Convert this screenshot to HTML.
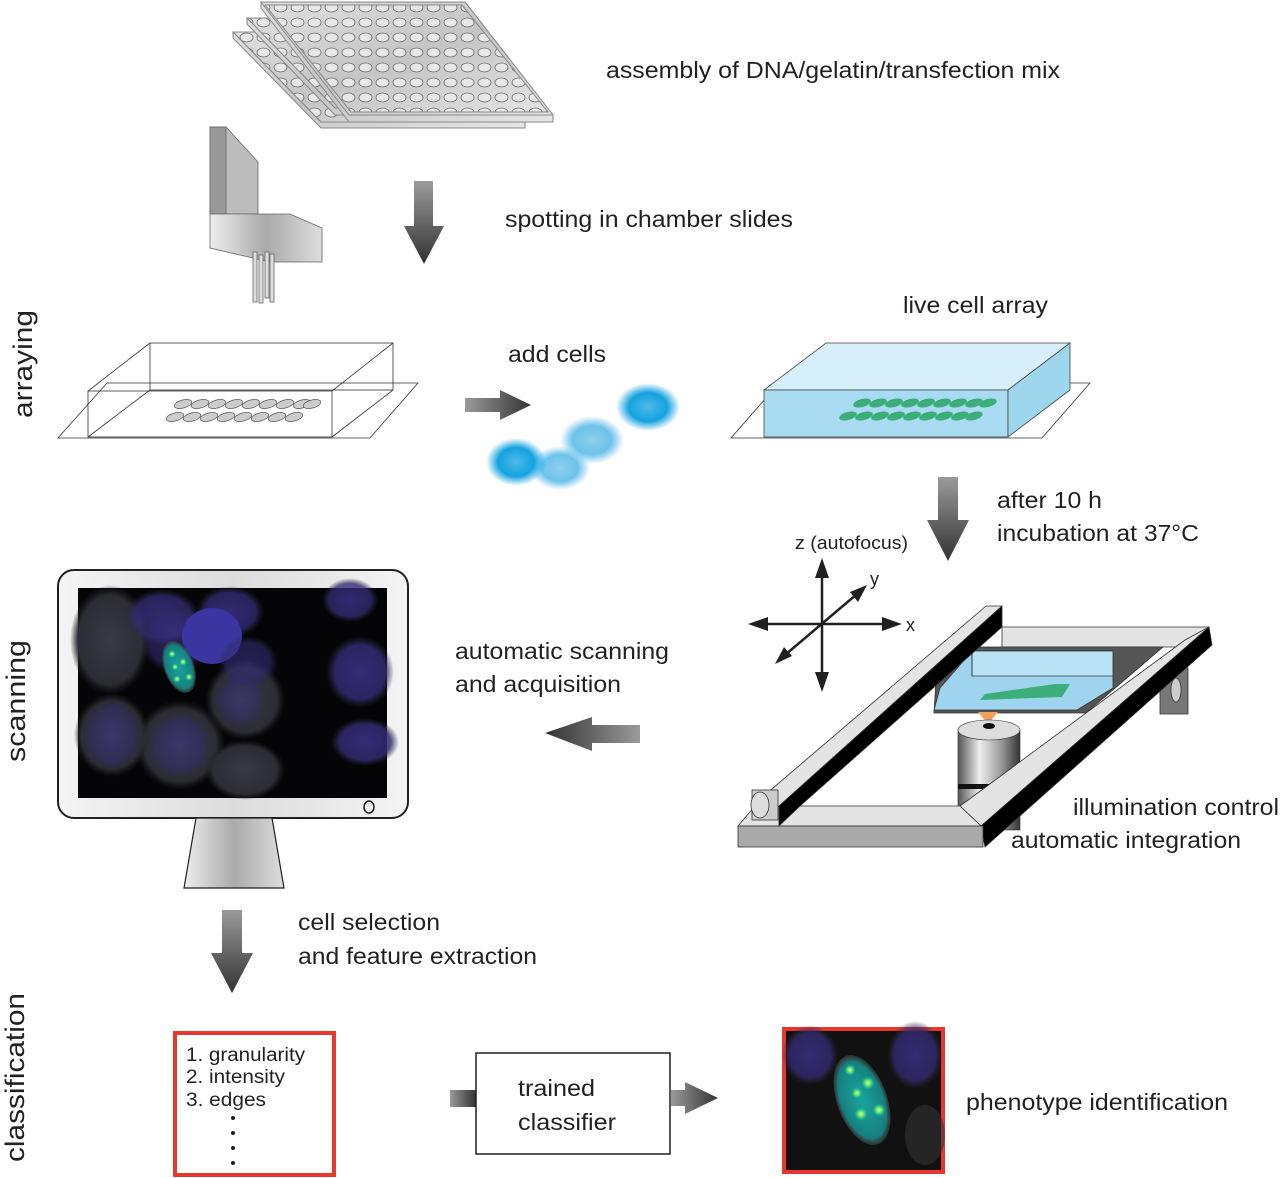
<!DOCTYPE html>
<html><head><meta charset="utf-8"><style>
html,body{margin:0;padding:0;background:#fff;}
svg{display:block;}
text{font-family:"Liberation Sans",Arial,sans-serif;fill:#231f20;}
</style></head><body>
<svg width="1280" height="1178" viewBox="0 0 1280 1178" xmlns="http://www.w3.org/2000/svg">
<defs>
<linearGradient id="ga" x1="0" y1="0" x2="0" y2="1"><stop offset="0" stop-color="#9a9a9a"/><stop offset="1" stop-color="#333"/></linearGradient>
<linearGradient id="gh" x1="0" y1="0" x2="1" y2="0"><stop offset="0" stop-color="#9a9a9a"/><stop offset="1" stop-color="#333"/></linearGradient>
<linearGradient id="ghl" x1="1" y1="0" x2="0" y2="0"><stop offset="0" stop-color="#9a9a9a"/><stop offset="1" stop-color="#333"/></linearGradient>
<linearGradient id="plate" x1="0" y1="0" x2="1" y2="1"><stop offset="0" stop-color="#e0e0e0"/><stop offset=".5" stop-color="#c4c4c4"/><stop offset="1" stop-color="#e6e6e6"/></linearGradient>
<linearGradient id="metal" x1="0" y1="0" x2="1" y2="0"><stop offset="0" stop-color="#eee"/><stop offset=".5" stop-color="#aaa"/><stop offset="1" stop-color="#ddd"/></linearGradient>
<linearGradient id="cyl" x1="0" y1="0" x2="1" y2="0"><stop offset="0" stop-color="#555"/><stop offset=".35" stop-color="#eee"/><stop offset=".7" stop-color="#999"/><stop offset="1" stop-color="#333"/></linearGradient>
<linearGradient id="bez" x1="0" y1="0" x2="1" y2="0"><stop offset="0" stop-color="#f4f4f4"/><stop offset=".5" stop-color="#dcdcdc"/><stop offset="1" stop-color="#f4f4f4"/></linearGradient>
<radialGradient id="cell" cx=".5" cy=".5" r=".5"><stop offset="0" stop-color="#4fb8e8"/><stop offset=".6" stop-color="#14a3e0"/><stop offset="1" stop-color="#14a3e0" stop-opacity="0"/></radialGradient>
<radialGradient id="cell2" cx=".5" cy=".5" r=".5"><stop offset="0" stop-color="#8fd0ee"/><stop offset=".6" stop-color="#6cc2ea"/><stop offset="1" stop-color="#6cc2ea" stop-opacity="0"/></radialGradient>
<radialGradient id="nuc" cx=".5" cy=".5" r=".5"><stop offset="0" stop-color="#3d338a"/><stop offset=".75" stop-color="#322a70"/><stop offset="1" stop-color="#2a2a3a" stop-opacity="0"/></radialGradient>
<radialGradient id="haze" cx=".5" cy=".5" r=".5"><stop offset="0" stop-color="#3a3a44"/><stop offset=".8" stop-color="#2c2c34"/><stop offset="1" stop-color="#222" stop-opacity="0"/></radialGradient>
<radialGradient id="gcell" cx=".5" cy=".5" r=".5"><stop offset="0" stop-color="#1aa3a0"/><stop offset=".85" stop-color="#15807e"/><stop offset="1" stop-color="#444" stop-opacity=".6"/></radialGradient>
<radialGradient id="spot" cx=".5" cy=".5" r=".5"><stop offset="0" stop-color="#e8ff80"/><stop offset=".5" stop-color="#3fdc7a"/><stop offset="1" stop-color="#1aa3a0" stop-opacity="0"/></radialGradient>
<pattern id="wells" x="0" y="0" width="17" height="15" patternUnits="userSpaceOnUse"><ellipse cx="8.5" cy="7.5" rx="6.5" ry="4.5" fill="#e8e8e8" stroke="#666" stroke-width=".8"/></pattern>
</defs>

<!-- plates -->
<g stroke="#888" stroke-width="1">
<polygon points="233,32 437,32 525,122 525,128 321,128 233,38" fill="url(#plate)"/>
<polygon points="233,32 437,32 525,122 321,122" fill="url(#plate)"/>
<polygon points="233,32 437,32 525,122 321,122" fill="url(#wells)"/>
<polygon points="247,18 451,18 539,108 539,115 335,115 247,24" fill="url(#plate)"/>
<polygon points="247,18 451,18 539,108 335,108" fill="url(#plate)"/>
<polygon points="247,18 451,18 539,108 335,108" fill="url(#wells)"/>
<polygon points="261,2 465,2 553,115 553,122 349,122 261,8" fill="url(#plate)"/>
<polygon points="261,2 465,2 553,115 349,115" fill="url(#plate)"/>
<polygon points="265,5 462,5 548,112 351,112" fill="url(#wells)"/>
</g>

<!-- spotter -->
<g stroke="#666" stroke-width=".8">
<polygon points="210,127 226,127 258,162 258,214 210,214" fill="#bcbcbc"/>
<rect x="210" y="127" width="16" height="87" fill="#999"/>
<polygon points="210,214 290,214 322,228 322,262 270,262 210,248" fill="url(#metal)"/>
<rect x="253" y="252" width="4" height="50" fill="#ddd"/><rect x="259" y="255" width="4" height="48" fill="#ddd"/><rect x="265" y="252" width="4" height="46" fill="#ddd"/><rect x="270" y="254" width="4" height="48" fill="#ddd"/>
</g>
<polygon points="414,181 433,181 433,226 444,226 424,264 404,226 414,226" fill="url(#ga)"/>

<!-- chamber slide empty -->
<g fill="none" stroke="#333" stroke-width=".8">
<polygon points="58,438 370,438 418,383 107,383"/>
<rect x="88" y="391" width="244" height="46"/>
<rect x="150" y="343" width="243" height="47"/>
<line x1="88" y1="391" x2="150" y2="343"/><line x1="332" y1="391" x2="393" y2="343"/><line x1="88" y1="437" x2="150" y2="390"/><line x1="332" y1="437" x2="393" y2="390"/>
</g>
<g fill="#ccc" stroke="#555" stroke-width=".7">
<ellipse cx="183" cy="404" rx="9" ry="4" transform="rotate(-15 183 404)"/><ellipse cx="200" cy="404" rx="9" ry="4" transform="rotate(-15 200 404)"/><ellipse cx="217" cy="404" rx="9" ry="4" transform="rotate(-15 217 404)"/><ellipse cx="234" cy="404" rx="9" ry="4" transform="rotate(-15 234 404)"/><ellipse cx="251" cy="404" rx="9" ry="4" transform="rotate(-15 251 404)"/><ellipse cx="268" cy="404" rx="9" ry="4" transform="rotate(-15 268 404)"/><ellipse cx="285" cy="404" rx="9" ry="4" transform="rotate(-15 285 404)"/><ellipse cx="302" cy="404" rx="9" ry="4" transform="rotate(-15 302 404)"/><ellipse cx="312" cy="404" rx="9" ry="4" transform="rotate(-15 312 404)"/>
<ellipse cx="175" cy="417" rx="9" ry="4" transform="rotate(-15 175 417)"/><ellipse cx="192" cy="417" rx="9" ry="4" transform="rotate(-15 192 417)"/><ellipse cx="209" cy="417" rx="9" ry="4" transform="rotate(-15 209 417)"/><ellipse cx="226" cy="417" rx="9" ry="4" transform="rotate(-15 226 417)"/><ellipse cx="243" cy="417" rx="9" ry="4" transform="rotate(-15 243 417)"/><ellipse cx="260" cy="417" rx="9" ry="4" transform="rotate(-15 260 417)"/><ellipse cx="277" cy="417" rx="9" ry="4" transform="rotate(-15 277 417)"/><ellipse cx="294" cy="417" rx="9" ry="4" transform="rotate(-15 294 417)"/>
</g>
<polygon points="465,398 500,398 500,390 531,405 500,420 500,412 465,412" fill="url(#gh)"/>

<!-- cells -->
<ellipse cx="648" cy="407" rx="32" ry="24" fill="url(#cell)"/>
<ellipse cx="592" cy="440" rx="32" ry="24" fill="url(#cell2)"/>
<ellipse cx="560" cy="468" rx="30" ry="22" fill="url(#cell2)"/>
<ellipse cx="516" cy="462" rx="30" ry="24" fill="url(#cell)"/>

<!-- live cell array -->
<polygon points="731,438 1042,438 1090,383 779,383" fill="#fff" stroke="#333" stroke-width=".8"/>
<polygon points="764,390 826,343 1070,343 1008,390" fill="#d6effa" stroke="#444" stroke-width=".8"/>
<rect x="764" y="390" width="244" height="47" fill="#a9dcf2" stroke="#444" stroke-width=".8"/>
<polygon points="1008,390 1070,343 1070,390 1008,437" fill="#9ed6ee" stroke="#444" stroke-width=".8"/>
<g fill="#3cae7a"><ellipse cx="862" cy="403" rx="9" ry="4" transform="rotate(-15 862 403)"/><ellipse cx="878" cy="403" rx="9" ry="4" transform="rotate(-15 878 403)"/><ellipse cx="894" cy="403" rx="9" ry="4" transform="rotate(-15 894 403)"/><ellipse cx="910" cy="403" rx="9" ry="4" transform="rotate(-15 910 403)"/><ellipse cx="926" cy="403" rx="9" ry="4" transform="rotate(-15 926 403)"/><ellipse cx="942" cy="403" rx="9" ry="4" transform="rotate(-15 942 403)"/><ellipse cx="958" cy="403" rx="9" ry="4" transform="rotate(-15 958 403)"/><ellipse cx="974" cy="403" rx="9" ry="4" transform="rotate(-15 974 403)"/><ellipse cx="988" cy="403" rx="9" ry="4" transform="rotate(-15 988 403)"/>
<ellipse cx="848" cy="416" rx="9" ry="4" transform="rotate(-15 848 416)"/><ellipse cx="864" cy="416" rx="9" ry="4" transform="rotate(-15 864 416)"/><ellipse cx="880" cy="416" rx="9" ry="4" transform="rotate(-15 880 416)"/><ellipse cx="896" cy="416" rx="9" ry="4" transform="rotate(-15 896 416)"/><ellipse cx="912" cy="416" rx="9" ry="4" transform="rotate(-15 912 416)"/><ellipse cx="928" cy="416" rx="9" ry="4" transform="rotate(-15 928 416)"/><ellipse cx="944" cy="416" rx="9" ry="4" transform="rotate(-15 944 416)"/><ellipse cx="960" cy="416" rx="9" ry="4" transform="rotate(-15 960 416)"/><ellipse cx="974" cy="416" rx="9" ry="4" transform="rotate(-15 974 416)"/></g>
<polygon points="938,477 958,477 958,520 969,520 948,561 927,520 938,520" fill="url(#ga)"/>

<!-- axes -->
<g stroke="#231f20" stroke-width="2.5" fill="#231f20">
<line x1="822" y1="570" x2="822" y2="680"/><line x1="760" y1="624" x2="890" y2="624"/><line x1="785" y1="655" x2="857" y2="594"/>
<polygon points="822,558 815,578 829,578" stroke="none"/><polygon points="822,692 815,672 829,672" stroke="none"/>
<polygon points="748,624 768,617 768,631" stroke="none"/><polygon points="902,624 882,617 882,631" stroke="none"/>
<polygon points="867,585 850,592 858,602" stroke="none"/><polygon points="775,664 784,647 792,656" stroke="none"/>
</g>
<text x="795" y="549" font-size="18" textLength="113" lengthAdjust="spacingAndGlyphs">z (autofocus)</text>
<text x="870" y="585" font-size="18">y</text>
<text x="906" y="631" font-size="18">x</text>

<!-- stage -->
<g stroke="#333" stroke-width=".8">
<rect x="1160" y="668" width="28" height="46" fill="#777"/>
<ellipse cx="1176" cy="690" rx="5" ry="12" fill="#ccc"/>
<polygon points="1002,627 1209,627 1185,647 1002,647" fill="#e4e4e4"/>
<polygon points="938,647 1163,647 1086,713 934,713" fill="#555"/>
<polygon points="972,651 1113,651 1113,688 1077,710 934,710 940,688" fill="#9fd4ef"/>
<polygon points="972,651 1113,651 1113,676 972,676" fill="#b8e2f5"/>
<line x1="972" y1="651" x2="972" y2="676"/>
</g>
<g fill="#3cae7a"><polygon points="985,694 1055,684 1070,684 1062,697 980,700"/></g>
<polygon points="978,712 998,712 988,724" fill="#f0a060"/>
<rect x="958" y="730" width="62" height="100" fill="url(#cyl)" stroke="#333" stroke-width=".6"/>
<ellipse cx="989" cy="730" rx="31" ry="10" fill="#ddd" stroke="#333" stroke-width=".6"/>
<ellipse cx="989" cy="726" rx="6" ry="3" fill="#111"/>
<rect x="958" y="784" width="62" height="5" fill="#111"/>
<g stroke="#333" stroke-width=".8">
<!-- right rail -->
<polygon points="960,806 1185,640 1209,627 981,826" fill="#e4e4e4"/>
<polygon points="981,826 1209,627 1212,645 985,847" fill="#000"/>
<!-- front bar -->
<polygon points="755,806 960,806 981,826 738,826" fill="#e4e4e4"/>
<rect x="738" y="826" width="245" height="21" fill="#aaa"/>
<!-- left rail -->
<polygon points="752,806 986,606 1002,606 779,806" fill="#e4e4e4"/>
<polygon points="779,806 1002,606 1002,627 800,806 779,826" fill="#000"/>
<rect x="752" y="790" width="26" height="30" fill="#ccc"/>
<ellipse cx="760" cy="805" rx="9" ry="13" fill="#ddd"/>
</g>

<!-- monitor -->
<rect x="58" y="570" width="350" height="248" rx="16" fill="url(#bez)" stroke="#231f20" stroke-width="2"/>
<rect x="78" y="588" width="309" height="210" fill="#050508"/>
<g>
<ellipse cx="110" cy="640" rx="40" ry="55" fill="url(#haze)"/>
<ellipse cx="245" cy="700" rx="40" ry="40" fill="url(#haze)"/>
<ellipse cx="180" cy="745" rx="45" ry="45" fill="url(#haze)"/>
<ellipse cx="245" cy="770" rx="40" ry="30" fill="url(#haze)"/>
<ellipse cx="112" cy="735" rx="38" ry="42" fill="url(#haze)"/>
<ellipse cx="162" cy="617" rx="38" ry="28" fill="url(#nuc)" opacity=".8"/>
<ellipse cx="175" cy="640" rx="35" ry="34" fill="url(#nuc)" opacity=".6"/>
<ellipse cx="230" cy="612" rx="34" ry="26" fill="url(#nuc)" opacity=".8"/>
<ellipse cx="212" cy="636" rx="30" ry="28" fill="#3a35a0"/>
<ellipse cx="248" cy="662" rx="30" ry="26" fill="url(#nuc)" opacity=".6"/>
<ellipse cx="350" cy="600" rx="28" ry="22" fill="url(#nuc)" opacity=".8"/>
<ellipse cx="360" cy="672" rx="34" ry="36" fill="url(#nuc)" opacity=".85"/>
<ellipse cx="365" cy="742" rx="34" ry="24" fill="url(#nuc)" opacity=".85"/>
<ellipse cx="112" cy="735" rx="30" ry="36" fill="url(#nuc)" opacity=".5"/>
<ellipse cx="180" cy="745" rx="32" ry="34" fill="url(#nuc)" opacity=".5"/>
<ellipse cx="240" cy="700" rx="26" ry="28" fill="url(#nuc)" opacity=".45"/>
<ellipse cx="179" cy="667" rx="15" ry="27" fill="url(#gcell)" transform="rotate(-20 179 667)"/>
<circle cx="172" cy="654" r="4" fill="url(#spot)"/><circle cx="183" cy="662" r="4" fill="url(#spot)"/><circle cx="175" cy="667" r="3.5" fill="url(#spot)"/><circle cx="177" cy="679" r="4" fill="url(#spot)"/><circle cx="189" cy="677" r="4" fill="url(#spot)"/>
</g>
<ellipse cx="369" cy="807" rx="5" ry="6" fill="none" stroke="#231f20" stroke-width="1.5"/>
<polygon points="196,818 272,818 284,888 184,888" fill="url(#metal)" stroke="#231f20" stroke-width="1.2"/>
<polygon points="545,733 592,717 592,725 640,725 640,743 592,743 592,751" fill="url(#ghl)"/>
<polygon points="222,910 242,910 242,953 253,953 232,993 211,953 222,953" fill="url(#ga)"/>

<!-- classification -->
<rect x="175" y="1033" width="159" height="142" fill="#fff" stroke="#e8382e" stroke-width="4"/>
<text x="186" y="1061" font-size="19" textLength="119" lengthAdjust="spacingAndGlyphs">1.  granularity</text>
<text x="186" y="1083" font-size="19" textLength="99" lengthAdjust="spacingAndGlyphs">2.  intensity</text>
<text x="186" y="1106" font-size="19" textLength="80" lengthAdjust="spacingAndGlyphs">3.  edges</text>
<g fill="#231f20"><circle cx="233" cy="1118" r="2"/><circle cx="233" cy="1133" r="2"/><circle cx="233" cy="1148" r="2"/><circle cx="233" cy="1163" r="2"/></g>
<rect x="450" y="1090" width="26" height="17" fill="url(#gh)"/>
<rect x="476" y="1053" width="194" height="101" fill="#fff" stroke="#231f20" stroke-width="1.5"/>
<text x="518" y="1096" font-size="23" textLength="77" lengthAdjust="spacingAndGlyphs">trained</text>
<text x="518" y="1130" font-size="23" textLength="98" lengthAdjust="spacingAndGlyphs">classifier</text>
<polygon points="671,1090 685,1090 685,1082 718,1098 685,1114 685,1106 671,1106" fill="url(#gh)"/>
<rect x="784" y="1029" width="159" height="143" fill="#111" stroke="#e8382e" stroke-width="4"/>
<ellipse cx="810" cy="1055" rx="28" ry="30" fill="url(#nuc)" opacity=".8"/>
<ellipse cx="915" cy="1055" rx="28" ry="34" fill="url(#nuc)" opacity=".8"/>
<ellipse cx="925" cy="1135" rx="20" ry="30" fill="#333" opacity=".6"/>
<ellipse cx="862" cy="1100" rx="25" ry="47" fill="url(#gcell)" transform="rotate(-20 862 1100)"/>
<circle cx="850" cy="1070" r="6" fill="url(#spot)"/><circle cx="868" cy="1083" r="7" fill="url(#spot)"/><circle cx="857" cy="1093" r="6" fill="url(#spot)"/><circle cx="861" cy="1114" r="7" fill="url(#spot)"/><circle cx="879" cy="1110" r="7" fill="url(#spot)"/>

<!-- labels -->
<g font-size="23">
<text x="606" y="78" textLength="454" lengthAdjust="spacingAndGlyphs">assembly of DNA/gelatin/transfection mix</text>
<text x="505" y="227" textLength="288" lengthAdjust="spacingAndGlyphs">spotting in chamber slides</text>
<text x="508" y="362" textLength="98" lengthAdjust="spacingAndGlyphs">add cells</text>
<text x="903" y="313" textLength="145" lengthAdjust="spacingAndGlyphs">live cell array</text>
<text x="997" y="508" textLength="105" lengthAdjust="spacingAndGlyphs">after 10 h</text>
<text x="997" y="541" textLength="202" lengthAdjust="spacingAndGlyphs">incubation at 37°C</text>
<text x="455" y="659" textLength="214" lengthAdjust="spacingAndGlyphs">automatic scanning</text>
<text x="455" y="692" textLength="166" lengthAdjust="spacingAndGlyphs">and acquisition</text>
<text x="1073" y="815" textLength="206" lengthAdjust="spacingAndGlyphs">illumination control</text>
<text x="1011" y="848" textLength="230" lengthAdjust="spacingAndGlyphs">automatic integration</text>
<text x="298" y="930" textLength="142" lengthAdjust="spacingAndGlyphs">cell selection</text>
<text x="298" y="964" textLength="239" lengthAdjust="spacingAndGlyphs">and feature extraction</text>
<text x="966" y="1110" textLength="262" lengthAdjust="spacingAndGlyphs">phenotype identification</text>
</g>
<text transform="translate(32,418) rotate(-90)" font-size="27" textLength="108" lengthAdjust="spacingAndGlyphs">arraying</text>
<text transform="translate(25,762) rotate(-90)" font-size="27" textLength="122" lengthAdjust="spacingAndGlyphs">scanning</text>
<text transform="translate(24,1162) rotate(-90)" font-size="27" textLength="169" lengthAdjust="spacingAndGlyphs">classification</text>
</svg>
</body></html>
